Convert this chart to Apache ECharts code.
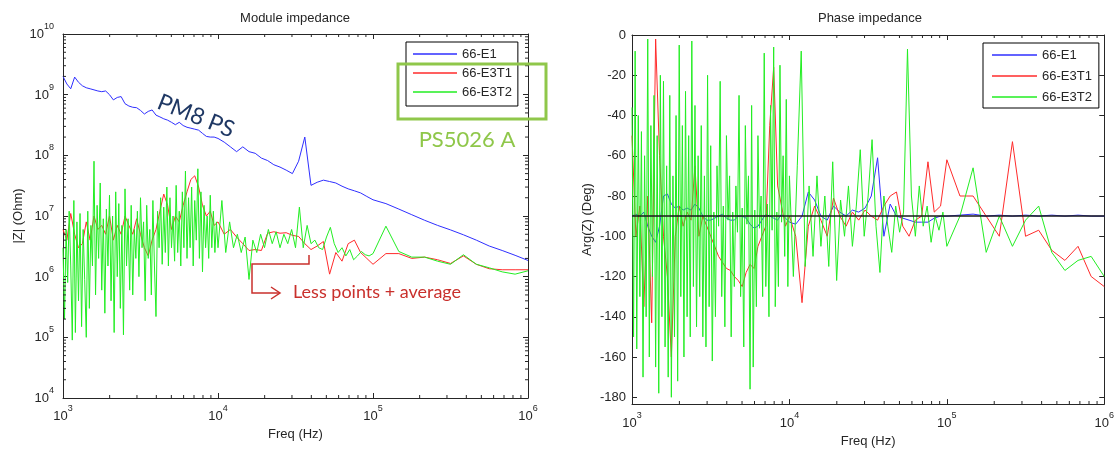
<!DOCTYPE html>
<html><head><meta charset="utf-8">
<script src="https://cdn.jsdelivr.net/npm/echarts@6/dist/echarts.min.js"></script>
<style>html,body{margin:0;padding:0;background:#fff}#c{width:1117px;height:453px}</style>
</head><body><div id="c"></div>
<script>
// ---------- data ----------
const seriesNames = ['66-E1', '66-E3T1', '66-E3T2'];

// frequency grid of 66-E3T2 (Hz)
const freqG = [
1000,1023,1047,1072,1096,1122,1148,1175,1202,1230,
1259,1288,1318,1349,1380,1413,1445,1479,1514,1549,
1585,1622,1660,1698,1738,1778,1820,1862,1905,1950,
1995,2042,2089,2138,2188,2239,2291,2344,2399,2455,
2512,2570,2630,2692,2754,2818,2884,2951,3020,3090,
3162,3236,3311,3388,3467,3548,3631,3715,3802,3890,
3981,4074,4169,4266,4365,4467,4571,4677,4786,4898,
5012,5129,5248,5370,5495,5623,5754,5888,6026,6166,
6310,6457,6607,6761,6918,7079,7244,7413,7586,7762,
7943,8128,8318,8511,8710,8913,9120,9333,9550,9772,
10000,
10593,11220,11885,12589,13335,14125,14962,15849,16788,17783,
18836,19953,21135,22387,23714,25119,26607,28184,29854,31623,
33497,35481,37584,39811,42170,44668,47315,50119,53088,56234,
59566,63096,66834,70795,74989,79433,84140,89125,94406,100000,
121153,146780,177828,215443,261016,316228,383119,464159,562341,681292,825404,1000000];

// |Z| of 66-E3T2 (Ohm)
const magE3T2 = [
3e6,2e5,6e6,8e5,1.2e7,1.5e6,9e4,1.8e7,1.2e5,8e6,
4e5,1.1e7,1.5e5,6e6,9e5,1.0e5,1.2e7,3e5,7e6,1.5e6,
8e7,5e5,1.5e7,2e6,3.5e7,6e5,9e6,2.5e5,1.3e7,1.5e6,
2.2e7,4e5,1.0e7,1.2e5,2.5e7,1.0e6,1.6e7,3e5,7e6,1.1e5,
2.8e7,1.5e6,9e6,6e5,1.5e7,5e5,6e6,2e6,1.2e7,1.0e6,
2e7,3e6,8e6,4e5,1.5e7,2e6,6e6,5e5,1.8e7,1.5e6,
2.2e5,1.2e7,3e6,2e7,1.6e6,1.4e7,2.5e6,3e7,1.5e6,2e7,
3e6,1.0e7,1.8e6,3.2e7,2.5e6,1.2e7,1.5e6,2.5e7,3e6,5.5e7,
2e6,2e7,3e6,3e7,1.5e6,1.8e7,4e6,6e7,2e6,2.5e7,
1.2e6,1.5e7,3e6,1e7,2e6,2.2e7,3e6,1.2e7,2.5e6,8e6,
3e6,
1.8e7,2.5e6,8e6,3e6,5e6,2.5e6,4.5e6,9e5,4e6,2.5e6,
5e6,3e6,6e6,3.5e6,5.5e6,3e6,5e6,3.5e6,6e6,3e6,
1.4e7,3e6,7e6,3.5e6,4e6,3e6,2.8e6,4.5e6,6.5e6,3.5e6,
2.5e6,3e6,2.2e6,2.8e6,1.9e6,2.2e6,2.6e6,2.3e6,2.2e6,2.4e6,
6.8e6,2.6e6,2.1e6,2.1e6,1.8e6,1.6e6,2.3e6,1.6e6,1.4e6,1.2e6,1.1e6,1.25e6];

// Arg(Z) of 66-E3T2 (deg)
const phE3T2 = [
-36,-150,-8,-156,-40,-130,-48,-170,-60,-140,
-2,-160,-45,-120,-30,-165,-50,-178,-20,-140,
-23,-155,-65,-170,-30,-180,-70,-150,-40,-172,
-5,-130,-45,-160,-28,-140,-50,-150,-3,-125,
-35,-145,-60,-130,-45,-150,-70,-155,-20,-135,
-55,-162,-88,-140,-65,-95,-23,-130,-85,-145,
-50,-92,-70,-150,-88,-125,-75,-98,-30,-130,
-86,-155,-45,-94,-70,-176,-35,-165,-87,-135,
-50,-96,-80,-130,-9,-125,-84,-140,-35,-97,
-6,-135,-88,-125,-15,-93,-60,-110,-32,-125,
-70,
-120,-65,-8,-115,-75,-110,-70,-105,-80,-115,
-63,-122,-82,-100,-75,-105,-85,-57,-100,-80,
-52,-95,-118,-80,-95,-108,-85,-98,-88,-7,
-80,-100,-75,-95,-85,-103,-90,-97,-88,-105,
-90,-66,-108,-90,-105,-92,-85,-108,-117,-112,-110,-120];

// frequency grid of 66-E1 and 66-E3T1 (Hz)
const freqB = [
1000,1059,1122,1189,1259,1334,1413,1496,1585,1679,
1778,1884,1995,2113,2239,2371,2512,2661,2818,2985,
3162,3350,3548,3758,3981,4217,4467,4732,5012,5309,
5623,5957,6310,6683,7079,7499,7943,8414,8913,9441,
10000,10965,12023,13183,14454,15849,17378,19055,20893,22909,
25119,27542,30200,33113,36308,39811,43652,47863,52481,57544,
63096,69183,75858,83176,91201,100000,121153,146780,177828,215443,
261016,316228,383119,464159,562341,681292,825404,1000000];

const magE1 = [
2.0e9,1.5e9,1.25e9,1.95e9,1.6e9,1.4e9,1.3e9,1.25e9,1.2e9,1.15e9,
1.12e9,1.15e9,1.0e9,8.2e8,9.0e8,9.3e8,7.1e8,6.5e8,6.2e8,6.1e8,
5.5e8,4.8e8,5.3e8,5.6e8,4.6e8,4.3e8,4.0e8,3.8e8,3.5e8,3.2e8,
3.5e8,3.1e8,2.9e8,2.8e8,2.7e8,2.6e8,2.3e8,2.05e8,2.0e8,2.0e8,
1.9e8,1.65e8,1.38e8,1.15e8,1.38e8,1.15e8,1.08e8,9.0e7,8.2e7,7.0e7,
6.4e7,5.7e7,5.0e7,8.0e7,2.0e8,3.2e7,3.6e7,3.9e7,3.7e7,3.5e7,
3.1e7,2.8e7,2.6e7,2.4e7,2.1e7,1.85e7,1.6e7,1.3e7,1.05e7,8.5e6,
7e6,5.9e6,4.9e6,4.0e6,3.2e6,2.7e6,2.25e6,1.85e6];

const magE3T1 = [
6.0e6,4e6,1.1e7,5e6,3e6,3.5e6,8e6,4e6,1.0e7,6e6,
7e6,5e6,1.0e7,4e6,7e6,5e6,1.0e7,7e6,5e6,9e6,
5e6,3e6,2.2e6,4e6,6e6,1.2e7,2.3e7,1.5e7,6e6,1.0e7,
8e6,1.5e7,2.5e7,4e7,4.6e7,3e7,1.5e7,1.0e7,1.2e7,7e6,
8e6,5e6,6e6,4.5e6,3.5e6,2.7e6,2.8e6,2.7e6,5.2e6,5.5e6,
5.2e6,5.3e6,4.8e6,4.6e6,3.5e6,2.8e6,3.2e6,3.8e6,1.1e6,2.5e6,
1.8e6,3.5e6,4.0e6,2.5e6,2.0e6,1.6e6,2.4e6,2.4e6,2.0e6,2.1e6,
1.9e6,1.65e6,2.2e6,1.6e6,1.35e6,1.3e6,1.3e6,1.3e6];

const phE1 = [
-90,-89,-90,-88,-95,-100,-103,-95,-80,-79,
-84,-86,-85,-87,-86,-87,-84,-86,-90,-92,
-92,-91,-90,-89,-91,-92,-92,-90,-90,-91,
-94,-96,-95,-92,-89,-90,-91,-92,-89,-91,
-93,-94,-90,-78,-82,-90,-92,-85,-88,-90,
-87,-88,-86,-80,-61,-100,-84,-90,-91,-92,
-93,-93,-93,-91,-90,-90,-89.5,-89,-90,-89.5,
-90,-89.5,-90,-89.5,-90,-89.5,-90,-90];

const phE3T1 = [
-50,-100,-85,-135,-80,-143,-2,-60,-100,-120,
-160,-100,-85,-95,-88,-92,-65,-100,-90,-95,
-100,-105,-110,-113,-116,-117,-120,-122,-125,-118,
-114,-116,-105,-100,-95,-45,-16,-75,-85,-95,
-90,-100,-133,-95,-85,-92,-100,-81,-90,-95,
-88,-92,-87,-90,-92,-85,-80,-78,-95,-100,
-92,-90,-63,-88,-85,-62,-80,-80,-90,-100,
-53,-100,-97,-107,-112,-105,-120,-125];

const phaseRef = -90;
// axis ranges and tick values
const freqRange = [1e3, 1e6];
const magRange = [1e4, 1e10];
const phaseRange = [-183.4, 0];
const freqMinorTicks = [2e3,3e3,4e3,5e3,6e3,7e3,8e3,9e3,2e4,3e4,4e4,5e4,6e4,7e4,8e4,9e4,2e5,3e5,4e5,5e5,6e5,7e5,8e5,9e5];
const magMinorTicks = [2e4,3e4,4e4,5e4,6e4,7e4,8e4,9e4,2e5,3e5,4e5,5e5,6e5,7e5,8e5,9e5,2e6,3e6,4e6,5e6,6e6,7e6,8e6,9e6,
  2e7,3e7,4e7,5e7,6e7,7e7,8e7,9e7,2e8,3e8,4e8,5e8,6e8,7e8,8e8,9e8,2e9,3e9,4e9,5e9,6e9,7e9,8e9,9e9];
const phaseTicks = [0,-20,-40,-60,-80,-100,-120,-140,-160,-180];

// ---------- chart ----------
const FONT = '"Liberation Sans", Arial, sans-serif';
const AX = '#262626';
const COLORS = {'66-E1':'#2f2fff','66-E3T1':'#ff2b2b','66-E3T2':'#22ee22'};
const pairs = (xs, ys) => xs.map((x, i) => [x, ys[i]]);

const powRich = {
  b: {fontSize: 13, fontFamily: FONT, color: AX, lineHeight: 19, verticalAlign: 'bottom'},
  s: {fontSize: 9, fontFamily: FONT, color: AX, lineHeight: 9, verticalAlign: 'top'}
};
const powFmt = v => '{b|10}{s|' + Math.round(Math.log10(v)) + '}';

function logX(grid, pos, label, margin, gap) {
  const a = {type:'log', logBase:10, gridIndex:grid, position:pos, min:freqRange[0], max:freqRange[1],
    axisLine:{show:true, onZero:false, lineStyle:{color:AX, width:1}},
    axisTick:{show:true, inside:true, length:5, lineStyle:{color:AX}},
    axisLabel:{show:label, margin:margin, formatter:powFmt, rich:powRich, showMinLabel:true, showMaxLabel:true},
    splitLine:{show:false}};
  if (label) {
    a.name = 'Freq (Hz)'; a.nameLocation = 'middle'; a.nameGap = gap;
    a.nameTextStyle = {fontFamily:FONT, fontSize:13, color:AX};
  }
  return a;
}

const xAxis = [logX(0,'bottom',true,6,27), logX(0,'top',false), logX(1,'bottom',true,7,25), logX(1,'top',false)];

const yAxis = [
  {type:'log', logBase:10, gridIndex:0, position:'left', min:magRange[0], max:magRange[1],
   name:'|Z| (Ohm)', nameLocation:'middle', nameGap:38, nameRotate:90,
   nameTextStyle:{fontFamily:FONT, fontSize:13, color:AX},
   axisLine:{show:true, onZero:false, lineStyle:{color:AX}},
   axisTick:{show:true, inside:true, length:5, lineStyle:{color:AX}},
   axisLabel:{margin:9, formatter:powFmt, rich:powRich, padding:[0,0,5,0], showMinLabel:true, showMaxLabel:true},
   splitLine:{show:false}},
  {type:'log', logBase:10, gridIndex:0, position:'right', min:magRange[0], max:magRange[1],
   axisLine:{show:true, onZero:false, lineStyle:{color:AX}},
   axisTick:{show:true, inside:true, length:5, lineStyle:{color:AX}},
   axisLabel:{show:false}, splitLine:{show:false}},
  {type:'value', gridIndex:1, position:'left', min:phaseRange[0], max:phaseRange[1],
   name:'Arg(Z) (Deg)', nameLocation:'middle', nameGap:38, nameRotate:90,
   nameTextStyle:{fontFamily:FONT, fontSize:13, color:AX},
   axisLine:{show:true, onZero:false, lineStyle:{color:AX}},
   axisTick:{show:true, inside:true, length:5, lineStyle:{color:AX}, customValues:phaseTicks},
   axisLabel:{margin:6, fontFamily:FONT, fontSize:13, color:AX, customValues:phaseTicks},
   splitLine:{show:false}},
  {type:'value', gridIndex:1, position:'right', min:phaseRange[0], max:phaseRange[1],
   axisLine:{show:true, onZero:false, lineStyle:{color:AX}},
   axisTick:{show:true, inside:true, length:5, lineStyle:{color:AX}, customValues:phaseTicks},
   axisLabel:{show:false}, splitLine:{show:false}}
];

// minor ticks drawn as tiny rect symbols placed through the axes' own scales
function tickMarks(data, xi, yi, size, offset) {
  return {type:'scatter', xAxisIndex:xi, yAxisIndex:yi, data, symbol:'rect', symbolSize:size, symbolOffset:offset,
    itemStyle:{color:AX, opacity:1}, silent:true, clip:false, z:6, emphasis:{disabled:true}, tooltip:{show:false}};
}

function lineSeries(name, data, xi, yi, extra) {
  return Object.assign({type:'line', name, data, xAxisIndex:xi, yAxisIndex:yi, symbol:'none', showSymbol:false,
    lineStyle:{color:COLORS[name], width:1}, itemStyle:{color:COLORS[name]}, z:3}, extra || {});
}

const series = [
  lineSeries('66-E1', pairs(freqB, magE1), 0, 0),
  lineSeries('66-E3T1', pairs(freqB, magE3T1), 0, 0),
  lineSeries('66-E3T2', pairs(freqG, magE3T2), 0, 0),
  lineSeries('66-E1', pairs(freqB, phE1), 2, 2),
  lineSeries('66-E3T1', pairs(freqB, phE3T1), 2, 2),
  lineSeries('66-E3T2', pairs(freqG, phE3T2), 2, 2, {
    markLine:{silent:true, symbol:['none','none'], label:{show:false},
      lineStyle:{color:'#1a1a1a', width:1.5, type:'solid'}, data:[{yAxis:phaseRef}]}}),
  // left panel minor ticks
  tickMarks(freqMinorTicks.map(v => [v, magRange[0]]), 0, 0, [1,3], [0,-1.5]),
  tickMarks(freqMinorTicks.map(v => [v, magRange[1]]), 0, 0, [1,3], [0,1.5]),
  tickMarks(magMinorTicks.map(v => [freqRange[0], v]), 0, 0, [3,1], [1.5,0]),
  tickMarks(magMinorTicks.map(v => [freqRange[1], v]), 0, 0, [3,1], [-1.5,0]),
  // right panel minor ticks
  tickMarks(freqMinorTicks.map(v => [v, phaseRange[0]]), 2, 2, [1,3], [0,-1.5]),
  tickMarks(freqMinorTicks.map(v => [v, phaseRange[1]]), 2, 2, [1,3], [0,1.5])
];

const legendBase = {orient:'vertical', selectedMode:false, data:seriesNames, icon:'rect', itemHeight:1.5,
  backgroundColor:'#fff', borderColor:'#000', borderWidth:1, borderRadius:0,
  textStyle:{fontFamily:FONT, fontSize:13, color:AX, lineHeight:14}};

const option = {
  animation:false,
  backgroundColor:'#fff',
  grid:[{left:63, top:34, width:465, height:364}, {left:632, top:35, width:475, height:373}],
  xAxis, yAxis, series,
  legend:[
    Object.assign({}, legendBase, {left:406, top:42, itemWidth:44, itemGap:5, itemTextGap:5, padding:[5,6,7,7]}),
    Object.assign({}, legendBase, {left:983, top:43, itemWidth:45, itemGap:7, itemTextGap:3, padding:[5,7,4,9]})
  ],
  graphic:[
    {type:'text', x:295, y:18, style:{text:'Module impedance', font:'13px ' + FONT, fill:AX, align:'center', verticalAlign:'middle'}},
    {type:'text', x:870, y:18, style:{text:'Phase impedance', font:'13px ' + FONT, fill:AX, align:'center', verticalAlign:'middle'}},
    {type:'text', x:196, y:116, rotation:-0.38, z:50, style:{text:'PM8 PS', font:'23px Lato, sans-serif', fill:'#1f3864', align:'center', verticalAlign:'middle'}},
    {type:'text', x:467, y:140, z:50, style:{text:'PS5026 A', font:'22px Lato, sans-serif', fill:'#8fc74a', align:'center', verticalAlign:'middle'}},
    {type:'rect', z:60, shape:{x:398, y:64, width:148, height:55}, style:{fill:'none', stroke:'#8fc74a', lineWidth:3}},
    {type:'text', x:293, y:292, z:50, style:{text:'Less points + average', font:'18px Lato, sans-serif', fill:'#c9302c', align:'left', verticalAlign:'middle'}},
    {type:'polyline', z:50, shape:{points:[[309,255],[309,264],[252,264],[252,293],[279,293]]}, style:{stroke:'#c9302c', lineWidth:1.5, fill:'none'}},
    {type:'polyline', z:50, shape:{points:[[271,287],[280,293],[271,299]]}, style:{stroke:'#c9302c', lineWidth:1.5, fill:'none'}}
  ]
};

const chart = echarts.init(document.getElementById('c'), null, {renderer:'canvas'});
chart.setOption(option);
</script></body></html>
